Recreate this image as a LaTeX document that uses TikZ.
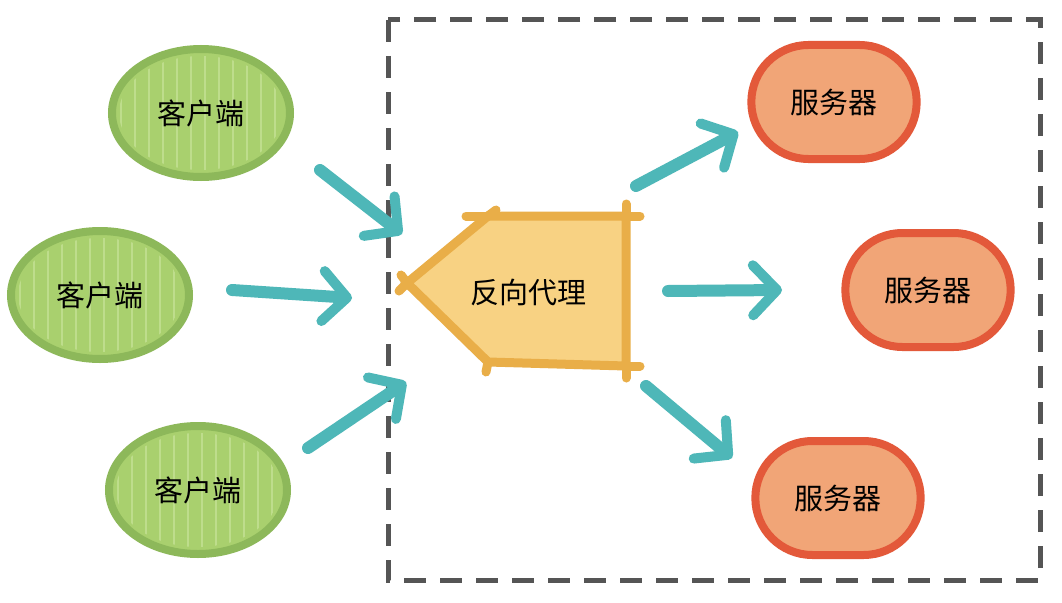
\documentclass[tikz,border=0pt]{standalone}
\usepackage{fontspec}
\setmainfont{Noto Sans CJK SC}
\usetikzlibrary{shapes.geometric,shapes.misc,arrows.meta}
\definecolor{cfill}{HTML}{A9D06E}
\definecolor{cdraw}{HTML}{8DB85A}
\definecolor{chatch}{HTML}{BEDD8C}
\definecolor{pfill}{HTML}{F8D283}
\definecolor{pdraw}{HTML}{E9AE48}
\definecolor{sfill}{HTML}{F1A577}
\definecolor{sdraw}{HTML}{E3593A}
\definecolor{teal}{HTML}{4EB7B8}
\definecolor{dgray}{HTML}{555555}
\begin{document}
\begin{tikzpicture}[x=1pt,y=-1pt,
  txt/.style={font=\fontsize{29}{32}\selectfont, text=black},
  client/.style={ellipse, fill=cfill, draw=cdraw, line width=8pt, minimum width=178pt, minimum height=128pt, txt},
  server/.style={rounded rectangle, fill=sfill, draw=sdraw, line width=8pt, minimum width=172pt, minimum height=114pt, txt},
  arr/.style={draw=teal, line width=12pt, line cap=round, -{Straight Barb[length=24pt,width=50pt,line width=10pt,round]}},
  pedge/.style={draw=pdraw, line width=9pt, line cap=round},
  frame/.style={draw=dgray, line width=5pt, dash pattern=on 22pt off 14pt}]
\useasboundingbox (0,0) rectangle (1062,602);
\fill[white] (0,0) rectangle (1062,602);
% frame
\draw[frame] (388,20) rectangle (1040,580);
% clients
\node[client] (c1) at (201,113) {};
\node[client] (c2) at (100,295) {};
\node[client] (c3) at (198,490) {};
\foreach \c in {c1,c2,c3}{
  \begin{scope}
    \clip (\c) ellipse (82pt and 57pt);
    \foreach \i in {-80,-66,...,80}
      \draw[chatch, line width=1.2pt] ([xshift=\i pt]\c.center) ++(0,-70) -- ++(0,140);
  \end{scope}
  \node[txt] at (\c) {客户端};
}
% proxy
\coordinate (pL) at (407,283);
\coordinate (pTL) at (488,216);
\coordinate (pTR) at (626,216);
\coordinate (pBR) at (626,366);
\coordinate (pBL) at (488,362);
\fill[pfill] (pL) -- (pTL) -- (pTR) -- (pBR) -- (pBL) -- cycle;
\draw[pedge] (pL) -- (pTL) -- (pTR) -- (pBR) -- (pBL) -- cycle;
\draw[pedge] (pTL) -- ++(-22,0);
\draw[pedge] (pTR) -- ++(14,0);
\draw[pedge] (pTR) -- ++(0,-12);
\draw[pedge] (pBR) -- ++(0,12);
\draw[pedge] (pBR) -- ++(14,0);
\draw[pedge] (pBL) -- ++(-2,10);
\draw[pedge] (pL) -- ++(-8,8);
\draw[pedge] (pL) -- ++(-6,-8);
\draw[pedge] (pTL) -- ++(8,-6);
\node[txt] (p) at (528,292) {反向代理};
% servers
\node[server] (s1) at (834,102) {服务器};
\node[server] (s2) at (928,290) {服务器};
\node[server] (s3) at (838,498) {服务器};
% arrow end points
\coordinate (a1s) at (320,170);
\coordinate (a1e) at (402,234);
\coordinate (a2s) at (232,290);
\coordinate (a2e) at (352,298);
\coordinate (a3s) at (308,448);
\coordinate (a3e) at (406,382);
\coordinate (a4s) at (636,186);
\coordinate (a4e) at (738,132);
\coordinate (a5s) at (668,291);
\coordinate (a5e) at (782,290);
\coordinate (a6s) at (646,386);
\coordinate (a6e) at (732,458);
\draw[arr] (a1s) -- (a1e);
\draw[arr] (a2s) -- (a2e);
\draw[arr] (a3s) -- (a3e);
\draw[arr] (a4s) -- (a4e);
\draw[arr] (a5s) -- (a5e);
\draw[arr] (a6s) -- (a6e);
\end{tikzpicture}
\end{document}
